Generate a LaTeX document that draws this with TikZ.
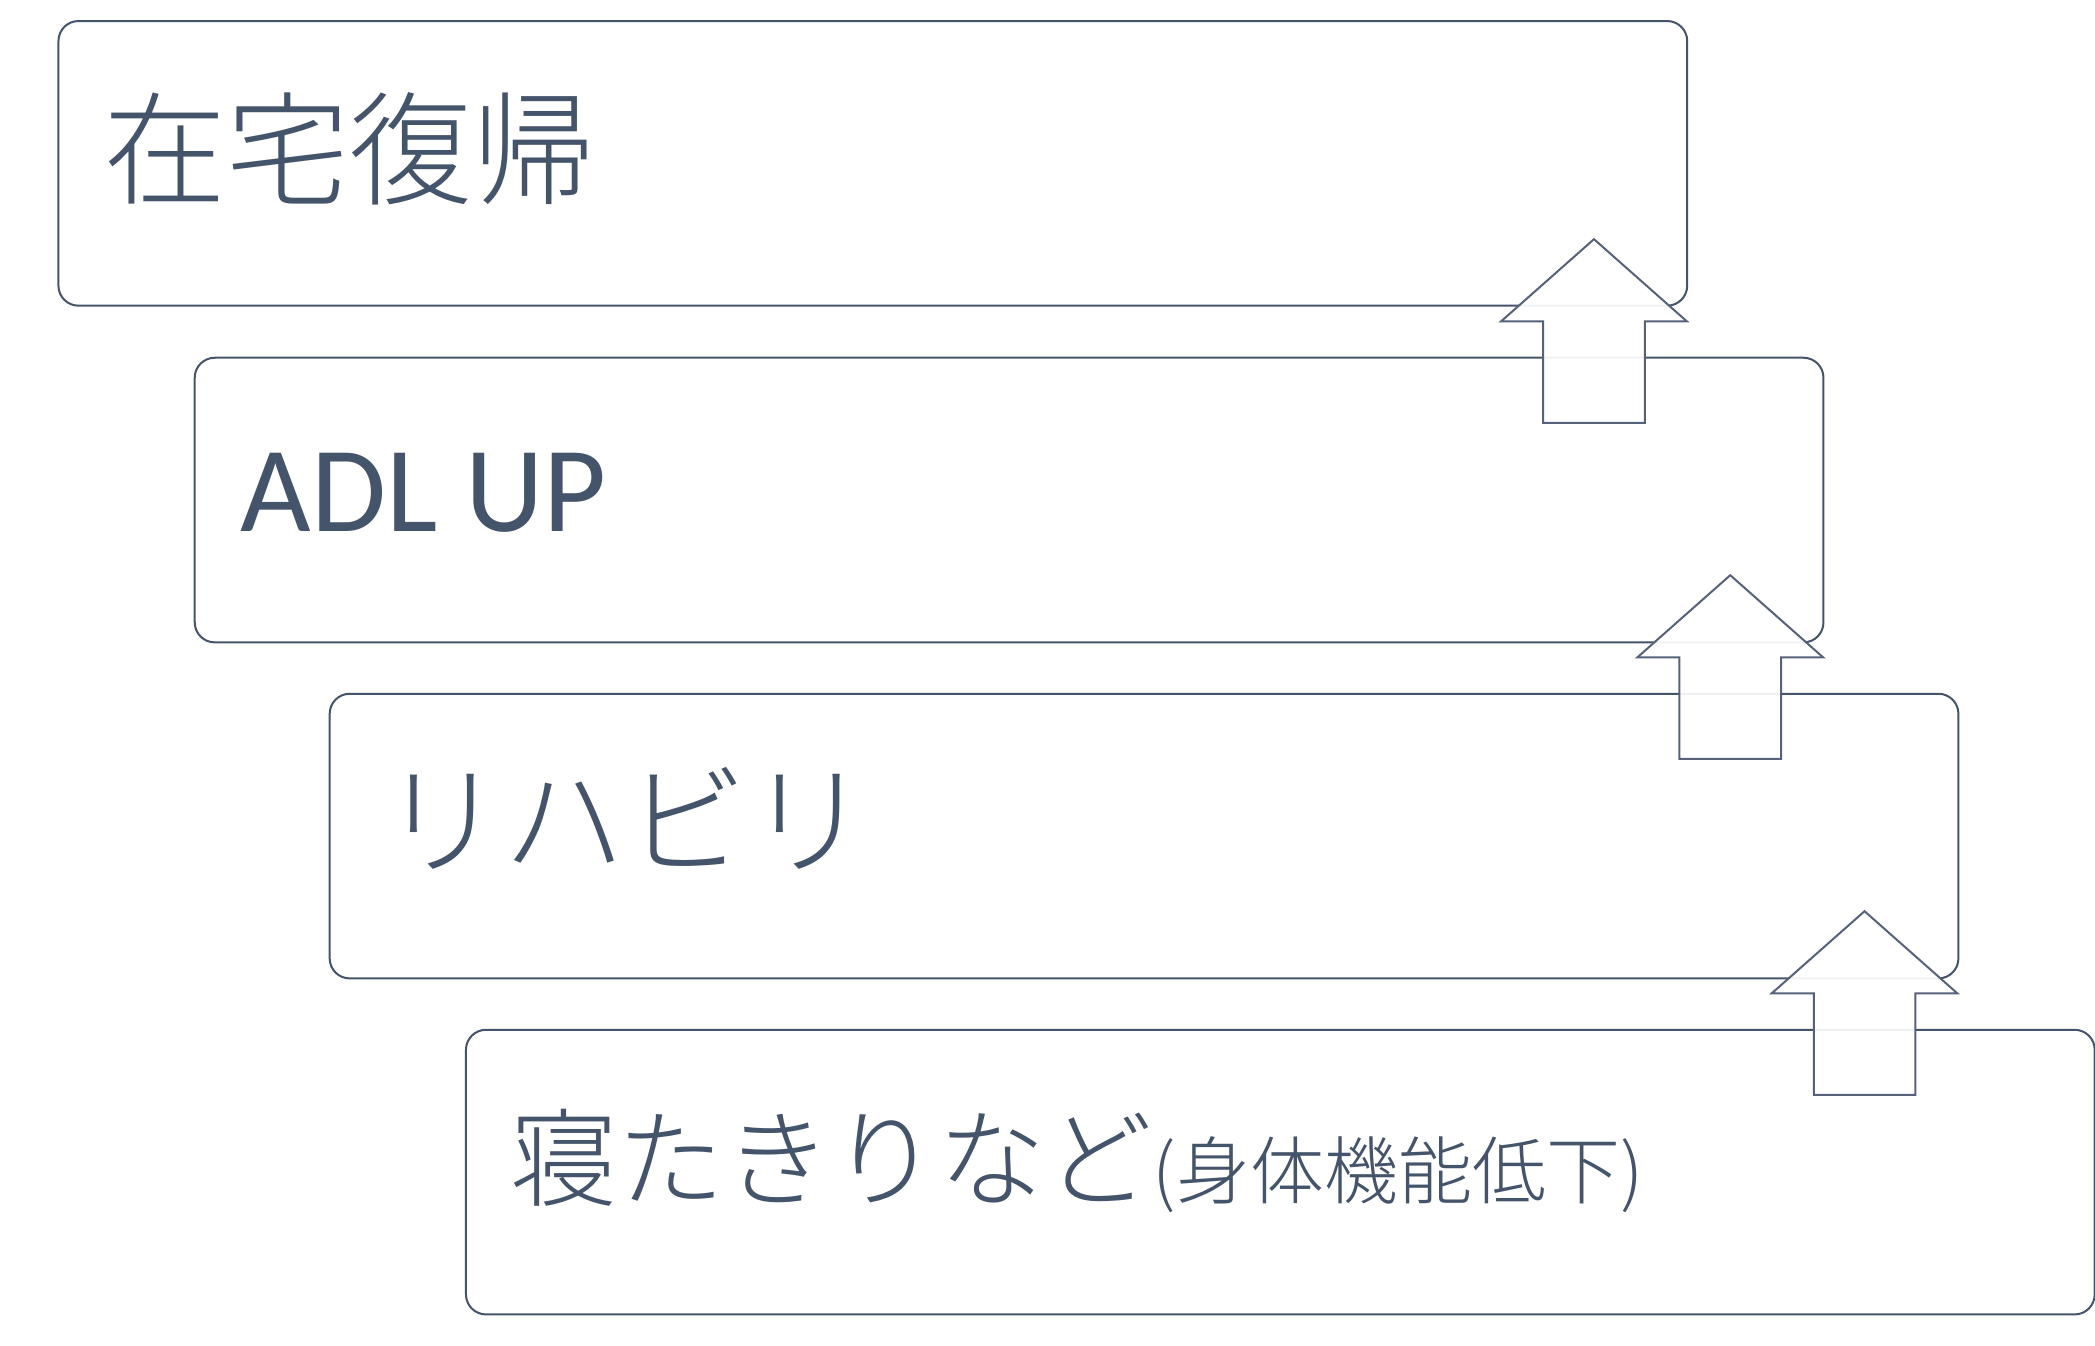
\documentclass[tikz,border=0pt]{standalone}
\usepackage{fontspec}
\newfontfamily\jp{Noto Sans CJK JP Light}
\newfontfamily\lat{Carlito}
\definecolor{ink}{HTML}{44546A}
\definecolor{arrowink}{HTML}{55627A}
\begin{document}
\begin{tikzpicture}[x=0.668pt,y=-0.668pt,
  stepbox/.style={draw=ink, line width=1pt, rounded corners=10pt, fill=white,
    minimum width=814.3pt, minimum height=142.3pt, inner sep=0pt, anchor=north west},
  steptext/.style={text=ink, inner sep=0pt, anchor=base west},
  arrowstyle/.style={draw=arrowink, line width=1pt, fill=white, fill opacity=0.92, line join=miter},
  uparrow/.pic={\draw[arrowstyle] (0,0) -- (69.5,61.5) -- (38,61.5) -- (38,137.5)
      -- (-38,137.5) -- (-38,61.5) -- (-69.5,61.5) -- cycle;}]
\useasboundingbox (0,0) rectangle (1568,1007.4);
\fill[white] (0,0) rectangle (1568,1007.4);
% boxes
\node[stepbox] (b1) at (43,15) {};
\node[stepbox] (b2) at (145,267) {};
\node[stepbox] (b3) at (246,518.5) {};
\node[stepbox] (b4) at (348,770) {};
% texts
\node[steptext] (t1) at (77,146.5) {\jp\fontsize{61.5}{70}\selectfont 在宅復帰};
\node[steptext] (t2) at (180,398) {\lat\fontsize{61}{70}\selectfont ADL UP};
\node[steptext] (t3) at (285,648) {\jp\fontsize{61}{70}\selectfont リハビリ};
\node[steptext] (t4) at (382,897) {\jp\fontsize{53.5}{60}\selectfont 寝たきりなど\fontsize{37}{40}\selectfont(身体機能低下)};
% arrows
\pic (a1) at (1193,179) {uparrow};
\pic (a2) at (1295,430.5) {uparrow};
\pic (a3) at (1395.5,682) {uparrow};
\end{tikzpicture}
\end{document}
